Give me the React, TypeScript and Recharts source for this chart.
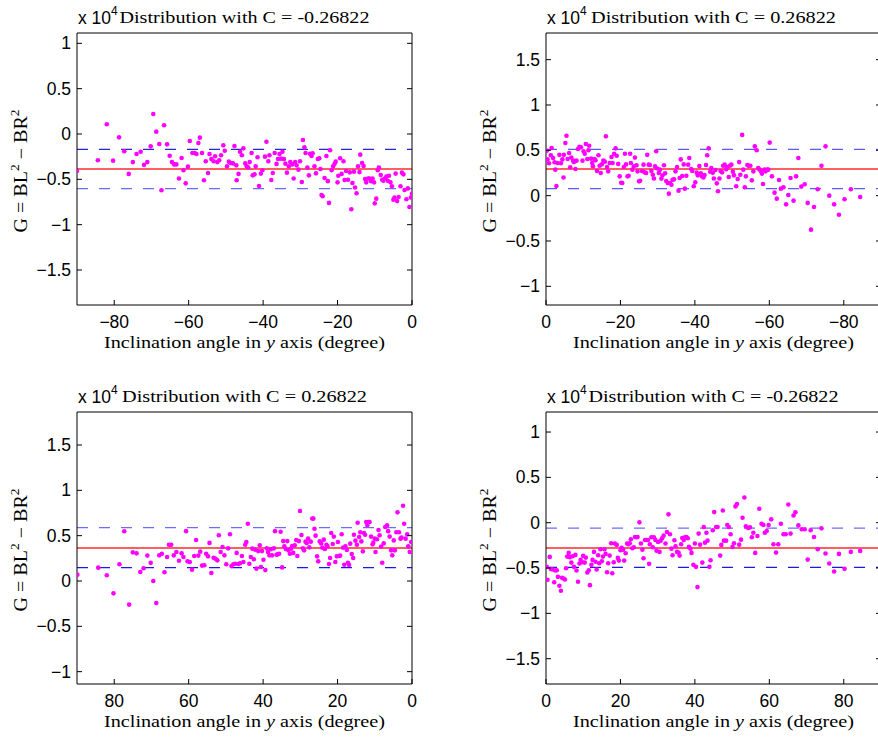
import React from 'react';
import { ScatterChart, Scatter, XAxis, YAxis, ReferenceLine } from 'recharts';

// panel 1 (top left): C = -0.26822, angle -90..0
const p1Angle = [
  -90, -84.4, -82.0, -80.3, -78.7, -77.3, -76.1, -75.0, -74.0, -72.9,
  -72.0, -71.1, -70.2, -69.5, -68.7, -67.9, -67.3, -66.6, -65.8, -65.1,
  -64.5, -63.9, -63.3, -62.6, -61.9, -61.4, -60.8, -60.2, -59.7, -59.0,
  -58.4, -57.9, -57.4, -57.0, -56.4, -55.9, -55.4, -54.8, -54.4, -53.9,
  -53.3, -52.9, -52.3, -51.8, -51.3, -50.7, -50.3, -49.7, -49.2, -48.7,
  -48.1, -47.7, -47.2, -47.1, -46.6, -46.2, -45.7, -45.3, -44.8, -44.4,
  -44.0, -43.6, -43.1, -42.8, -42.3, -42.0, -41.5, -41.1, -40.6, -40.2,
  -39.5, -39.1, -38.6, -38.3, -37.8, -37.4, -36.9, -36.4, -36.0, -35.6,
  -35.2, -34.8, -34.4, -34.0, -33.6, -33.1, -32.7, -32.2, -31.8, -31.4,
  -31.0, -30.5, -30.1, -29.6, -29.3, -28.9, -28.6, -28.1, -27.7, -27.4,
  -27.0, -26.7, -26.2, -25.8, -25.3, -24.9, -24.6, -24.3, -24.0, -23.5,
  -23.0, -22.6, -22.3, -22.0, -21.6, -21.2, -20.8, -20.5, -20.0, -19.8,
  -19.3, -18.9, -18.4, -18.1, -17.7, -17.2, -16.7, -16.3, -16.0, -15.6,
  -15.3, -14.9, -14.5, -14.1, -13.9, -13.4, -13.0, -12.6, -12.3, -11.8,
  -11.4, -11.0, -10.6, -10.2, -10.0, -9.6, -9.2, -8.9, -8.4, -8.0,
  -7.7, -7.3, -6.9, -6.5, -6.2, -5.8, -5.4, -5.0, -4.7, -4.4,
  -4.0, -3.6, -3.1, -2.7, -2.3, -2.0, -1.5, -1.1, -0.7, -0.3,
  0,
];
const p1G = [
  -0.408, -0.29, 0.107, -0.294, -0.037, -0.19, -0.44, -0.31, -0.22, -0.195,
  -0.34, -0.31, -0.136, 0.22, 0.026, -0.11, -0.62, 0.096, -0.114, -0.24,
  -0.31, -0.335, -0.335, -0.49, -0.265, -0.40, -0.544, -0.36, -0.077, -0.21,
  -0.21, -0.22, -0.10, -0.04, -0.21, -0.51, -0.30, -0.43, -0.22, -0.276,
  -0.30, -0.246, -0.31, -0.29, -0.235, -0.125, -0.184, -0.357, -0.305, -0.32,
  -0.324, -0.132, -0.346, -0.51, -0.44, -0.195, -0.235, -0.158, -0.324, -0.357,
  -0.37, -0.31, -0.21, -0.456, -0.445, -0.357, -0.257, -0.574, -0.437, -0.40,
  -0.25, -0.085, -0.30, -0.235, -0.507, -0.43, -0.21, -0.33, -0.276, -0.22,
  -0.272, -0.195, -0.276, -0.327, -0.426, -0.357, -0.31, -0.335, -0.49, -0.31,
  -0.346, -0.393, -0.30, -0.53, -0.066, -0.147, -0.21, -0.37, -0.456, -0.217,
  -0.243, -0.213, -0.357, -0.434, -0.276, -0.268, -0.386, -0.673, -0.687, -0.485,
  -0.243, -0.52, -0.76, -0.18, -0.40, -0.357, -0.33, -0.305, -0.533, -0.46,
  -0.268, -0.44, -0.30, -0.507, -0.408, -0.504, -0.423, -0.83, -0.54, -0.415,
  -0.59, -0.654, -0.357, -0.42, -0.228, -0.32, -0.353, -0.496, -0.533, -0.49,
  -0.49, -0.52, -0.49, -0.533, -0.765, -0.713, -0.40, -0.37, -0.452, -0.504,
  -0.515, -0.49, -0.47, -0.515, -0.46, -0.533, -0.577, -0.724, -0.70, -0.437,
  -0.74, -0.695, -0.577, -0.426, -0.445, -0.618, -0.72, -0.60, -0.805, -0.70,
  -0.658,
];

// panel 2 (top right): C = 0.26822, angle 0..-90 (reversed)
const p2Angle = [
  -0.2, -0.4, -0.8, -1.3, -1.5, -1.9, -2.3, -2.5, -2.8, -3.1,
  -3.6, -4.0, -4.4, -4.7, -4.8, -5.2, -5.5, -5.8, -6.2, -6.5,
  -6.8, -7.3, -7.5, -7.9, -8.2, -8.6, -9.0, -9.4, -9.8, -10.1,
  -10.4, -10.7, -11.1, -11.4, -11.6, -12.1, -12.4, -12.6, -13.0, -13.3,
  -13.7, -14.1, -14.4, -14.7, -15.0, -15.4, -15.8, -16.1, -16.4, -16.7,
  -17.1, -17.6, -17.9, -18.3, -18.7, -19.0, -19.4, -19.8, -20.2, -20.5,
  -20.9, -21.2, -21.5, -21.9, -22.2, -22.6, -22.8, -23.2, -23.6, -23.9,
  -24.3, -24.6, -25.0, -25.3, -25.8, -26.2, -26.5, -26.9, -27.2, -27.6,
  -27.9, -28.3, -28.7, -29.0, -29.3, -29.6, -29.9, -30.3, -30.6, -31.0,
  -31.3, -31.7, -32.0, -32.3, -32.7, -33.0, -33.3, -33.7, -34.0, -34.4,
  -34.8, -35.2, -35.6, -35.9, -36.2, -36.6, -37.0, -37.3, -37.7, -38.2,
  -38.5, -39.0, -39.3, -39.7, -40.1, -40.5, -40.8, -41.2, -41.6, -41.9,
  -42.3, -42.6, -43.0, -43.3, -43.7, -44.1, -44.4, -44.8, -45.1, -45.5,
  -45.9, -46.2, -46.6, -46.9, -47.3, -47.6, -48.0, -48.4, -48.7, -49.1,
  -49.4, -49.8, -50.2, -50.5, -51.1, -51.5, -51.9, -52.2, -52.7, -53.0,
  -53.4, -53.7, -54.1, -54.4, -54.9, -55.3, -55.7, -56.1, -56.6, -57.0,
  -57.3, -57.7, -58.0, -58.3, -58.7, -59.0, -59.4, -59.7, -60.1, -60.7,
  -61.4, -62.0, -62.6, -63.1, -63.8, -64.5, -65.1, -65.7, -66.5, -67.2,
  -67.8, -68.6, -69.5, -70.3, -71.2, -72.0, -73.0, -74.0, -75.1, -76.1,
  -77.4, -78.7, -80.2, -81.9, -84.4,
];
const p2G = [
  0.496, 0.40, 0.357, 0.445, 0.526, 0.415, 0.368, 0.287, 0.107, 0.36,
  0.45, 0.357, 0.40, 0.20, 0.45, 0.58, 0.66, 0.404, 0.47, 0.313,
  0.42, 0.386, 0.37, 0.294, 0.386, 0.515, 0.54, 0.533, 0.386, 0.49,
  0.463, 0.57, 0.404, 0.50, 0.55, 0.408, 0.36, 0.324, 0.404, 0.39,
  0.272, 0.445, 0.33, 0.25, 0.345, 0.386, 0.375, 0.654, 0.316, 0.268,
  0.36, 0.426, 0.36, 0.463, 0.522, 0.44, 0.35, 0.213, 0.143, 0.14,
  0.316, 0.463, 0.345, 0.213, 0.22, 0.463, 0.36, 0.287, 0.324, 0.42,
  0.335, 0.268, 0.158, 0.165, 0.272, 0.342, 0.257, 0.25, 0.45, 0.342,
  0.338, 0.272, 0.23, 0.19, 0.324, 0.49, 0.30, 0.25, 0.287, 0.188,
  0.224, 0.335, 0.246, 0.162, 0.14, 0.022, 0.14, 0.121, 0.176, 0.18,
  0.268, 0.316, 0.055, 0.195, 0.40, 0.217, 0.345, 0.077, 0.22, 0.342,
  0.415, 0.294, 0.272, 0.103, 0.147, 0.254, 0.224, 0.327, 0.246, 0.213,
  0.20, 0.228, 0.338, 0.445, 0.522, 0.265, 0.305, 0.254, 0.19, 0.283,
  0.136, 0.048, 0.19, 0.272, 0.257, 0.33, 0.342, 0.29, 0.316, 0.206,
  0.33, 0.342, 0.265, 0.224, 0.103, 0.184, 0.37, 0.23, 0.67, 0.287,
  0.092, 0.213, 0.338, 0.33, 0.33, 0.169, 0.268, 0.544, 0.50, 0.305,
  0.29, 0.272, 0.243, 0.128, 0.287, 0.268, 0.287, 0.287, 0.585, 0.213,
  0.033, -0.033, 0.173, 0.077, 0.092, -0.096, 0.007, 0.195, -0.055, 0.213,
  0.415, 0.10, 0.125, -0.08, -0.375, -0.125, 0.07, 0.33, 0.544, 0.0,
  -0.096, -0.21, -0.04, 0.07, -0.015,
];

// panel 3 (bottom left): C = 0.26822, angle 90..0 (reversed)
const p3Angle = [
  89.9, 84.3, 82.0, 80.2, 78.6, 77.3, 76.0, 75.0, 74.0, 73.0,
  72.1, 71.1, 70.2, 69.5, 68.7, 67.9, 67.2, 66.5, 65.8, 65.3,
  64.7, 64.0, 63.3, 62.6, 61.9, 61.4, 60.7, 60.3, 59.7, 59.1,
  58.5, 58.0, 57.4, 56.9, 56.4, 55.8, 55.3, 54.8, 54.4, 53.9,
  53.3, 52.8, 52.3, 51.9, 51.4, 50.9, 50.4, 49.9, 49.4, 48.9,
  48.5, 48.0, 47.5, 47.1, 46.6, 46.2, 45.7, 45.3, 44.8, 44.5,
  44.1, 43.7, 43.3, 42.9, 42.5, 42.1, 41.8, 41.3, 40.9, 40.6,
  40.3, 39.9, 39.4, 39.0, 38.7, 38.3, 37.9, 37.6, 37.1, 36.8,
  36.4, 36.1, 35.7, 35.3, 34.9, 34.6, 34.3, 33.9, 33.5, 33.2,
  32.8, 32.5, 32.2, 31.9, 31.5, 31.1, 30.8, 30.4, 30.1, 29.7,
  29.3, 29.0, 28.6, 28.3, 27.9, 27.6, 27.2, 26.8, 26.5, 26.2,
  25.9, 25.5, 25.2, 24.8, 24.4, 24.1, 23.7, 23.4, 23.0, 22.7,
  22.3, 22.0, 21.7, 21.3, 21.0, 20.6, 20.2, 19.9, 19.5, 19.3,
  18.9, 18.5, 18.2, 17.9, 17.5, 17.2, 16.9, 16.6, 16.2, 15.8,
  15.6, 15.2, 14.8, 14.6, 14.2, 13.9, 13.6, 13.2, 12.9, 12.6,
  12.3, 12.0, 11.7, 11.4, 11.0, 10.6, 10.4, 10.0, 9.8, 9.4,
  9.0, 8.7, 8.3, 8.0, 7.6, 7.2, 6.7, 6.4, 6.0, 5.6,
  5.3, 4.9, 4.6, 4.2, 3.9, 3.5, 3.1, 2.8, 2.4, 2.1,
  1.7, 1.3, 1.0, 0.6, 0.2,
];
const p3G = [
  0.07, 0.147, 0.063, -0.136, 0.184, 0.548, -0.26, 0.316, 0.305, 0.10,
  0.14, 0.28, 0.20, 0.0, -0.243, 0.283, 0.30, 0.096, 0.265, 0.40,
  0.40, 0.283, 0.32, 0.224, 0.305, 0.265, 0.55, 0.217, 0.21, 0.125,
  0.276, 0.452, 0.28, 0.324, 0.17, 0.173, 0.30, 0.272, 0.42, 0.088,
  0.257, 0.246, 0.228, 0.504, 0.32, 0.375, 0.283, 0.184, 0.36, 0.515,
  0.165, 0.184, 0.19, 0.31, 0.188, 0.195, 0.276, 0.21, 0.40, 0.43,
  0.632, 0.19, 0.265, 0.357, 0.24, 0.345, 0.136, 0.33, 0.393, 0.154,
  0.33, 0.235, 0.12, 0.36, 0.32, 0.283, 0.35, 0.283, 0.36, 0.55,
  0.29, 0.294, 0.30, 0.544, 0.15, 0.44, 0.382, 0.353, 0.44, 0.338,
  0.30, 0.357, 0.386, 0.31, 0.393, 0.452, 0.276, 0.44, 0.772, 0.507,
  0.36, 0.338, 0.434, 0.42, 0.467, 0.371, 0.434, 0.69, 0.688, 0.577,
  0.50, 0.272, 0.217, 0.437, 0.415, 0.368, 0.456, 0.353, 0.40, 0.382,
  0.188, 0.254, 0.53, 0.408, 0.49, 0.21, 0.272, 0.43, 0.276, 0.28,
  0.515, 0.368, 0.18, 0.382, 0.342, 0.202, 0.176, 0.412, 0.298, 0.254,
  0.51, 0.445, 0.40, 0.643, 0.485, 0.537, 0.437, 0.327, 0.53, 0.51,
  0.65, 0.614, 0.65, 0.65, 0.49, 0.404, 0.423, 0.467, 0.32, 0.46,
  0.563, 0.504, 0.38, 0.202, 0.415, 0.595, 0.614, 0.55, 0.49, 0.338,
  0.283, 0.448, 0.338, 0.537, 0.757, 0.537, 0.467, 0.478, 0.83, 0.632,
  0.467, 0.515, 0.382, 0.32, 0.43,
];

// panel 4 (bottom right): C = -0.26822, angle 0..90
const p4Angle = [
  0.2, 0.4, 1.0, 1.3, 1.8, 2.2, 2.5, 2.9, 3.2, 3.6,
  4.0, 4.3, 4.7, 5.1, 5.4, 5.7, 6.1, 6.4, 6.8, 7.2,
  7.5, 7.9, 8.2, 8.6, 9.0, 9.3, 9.7, 10.0, 10.4, 10.7,
  11.1, 11.5, 11.8, 12.2, 12.5, 12.9, 13.3, 13.6, 14.0, 14.3,
  14.6, 15.0, 15.3, 15.7, 16.0, 16.4, 16.7, 17.1, 17.5, 17.8,
  18.2, 18.5, 19.0, 19.3, 19.6, 20.0, 20.3, 20.7, 21.0, 21.4,
  21.8, 22.1, 22.5, 22.8, 23.2, 23.6, 23.9, 24.3, 24.6, 25.1,
  25.5, 25.9, 26.2, 26.6, 27.0, 27.4, 27.7, 27.9, 28.3, 28.7,
  29.0, 29.4, 29.7, 30.1, 30.5, 30.8, 31.2, 31.6, 32.1, 32.5,
  32.9, 33.3, 33.7, 34.0, 34.5, 34.8, 35.2, 35.6, 35.9, 36.3,
  36.6, 37.0, 37.4, 37.7, 38.1, 38.4, 38.8, 39.1, 39.6, 40.0,
  40.3, 40.7, 41.0, 41.4, 42.0, 42.4, 42.7, 43.1, 43.4, 43.9,
  44.2, 44.8, 45.2, 45.7, 46.1, 46.8, 47.1, 47.5, 47.8, 48.4,
  48.7, 49.1, 49.6, 50.1, 50.5, 50.9, 51.3, 51.9, 52.4, 52.8,
  53.3, 53.7, 54.3, 54.8, 55.3, 55.7, 56.2, 56.8, 57.3, 57.9,
  58.4, 58.8, 59.3, 59.8, 60.5, 61.1, 61.8, 62.4, 63.1, 63.8,
  64.4, 65.1, 65.7, 66.5, 67.0, 67.8, 68.7, 69.5, 70.3, 71.1,
  72.0, 73.0, 74.0, 75.1, 76.1, 77.4, 78.7, 80.2, 81.9, 84.4,
];
const p4G = [
  -0.487, -0.63, -0.377, -0.51, -0.516, -0.656, -0.527, -0.524, -0.597, -0.696,
  -0.75, -0.608, -0.615, -0.626, -0.502, -0.374, -0.333, -0.38, -0.44, -0.37,
  -0.487, -0.355, -0.527, -0.652, -0.45, -0.41, -0.436, -0.366, -0.44, -0.385,
  -0.55, -0.524, -0.689, -0.465, -0.41, -0.322, -0.43, -0.516, -0.359, -0.447,
  -0.293, -0.425, -0.374, -0.293, -0.344, -0.546, -0.447, -0.363, -0.227, -0.557,
  -0.436, -0.23, -0.245, -0.388, -0.418, -0.304, -0.278, -0.297, -0.418, -0.337,
  -0.23, -0.238, -0.227, -0.183, -0.282, -0.27, -0.158, -0.161, -0.158, 0.004,
  -0.23, -0.297, -0.392, -0.19, -0.19, -0.19, -0.454, -0.238, -0.161, -0.27,
  -0.161, -0.19, -0.308, -0.212, -0.322, -0.2, -0.172, -0.143, -0.23, -0.103,
  0.092, -0.128, -0.286, -0.359, -0.194, -0.26, -0.322, -0.33, -0.363, -0.238,
  -0.168, -0.19, -0.158, -0.158, -0.172, -0.267, -0.286, -0.333, -0.465, -0.23,
  -0.487, -0.71, -0.12, -0.242, -0.44, -0.048, -0.22, -0.11, -0.198, -0.487,
  -0.414, -0.084, 0.117, -0.048, -0.048, -0.363, -0.245, 0.135, -0.198, -0.198,
  -0.026, -0.048, -0.128, -0.267, -0.227, 0.18, 0.205, -0.242, -0.187, 0.055,
  0.278, -0.04, -0.059, -0.051, -0.161, -0.11, -0.333, -0.147, 0.154, -0.011,
  -0.026, -0.11, -0.092, -0.026, 0.037, -0.238, -0.33, -0.238, -0.011, -0.128,
  -0.128, 0.201, -0.12, 0.08, 0.114, -0.03, -0.073, -0.073, -0.407, -0.084,
  -0.158, -0.293, -0.062, -0.34, -0.45, -0.538, -0.344, -0.509, -0.322, -0.311,
];

// mean (red) and mean +/- std (dashed), one entry per panel
const meanG = [-0.386, 0.294, 0.364, -0.279];
const upperG = [-0.17, 0.51, 0.589, -0.06];
const lowerG = [-0.603, 0.077, 0.148, -0.493];

const titles = [
  'Distribution with C = -0.26822',
  'Distribution with C = 0.26822',
  'Distribution with C = 0.26822',
  'Distribution with C = -0.26822',
];

const negAngleTicks = [-80, -60, -40, -20, 0];
const posAngleTicks = [0, 20, 40, 60, 80];
const gTicksLow = [-1.5, -1, -0.5, 0, 0.5, 1];
const gTicksHigh = [-1, -0.5, 0, 0.5, 1, 1.5];

const SANS = '"Liberation Sans", Arial, Helvetica, sans-serif';
const SERIF = '"Liberation Serif", "Times New Roman", serif';
const PLOT_W = 335;
const PLOT_H = 272;
const Y_AXIS_W = 60;
const X_AXIS_H = 30;
const EDGE = 10;
const TICK = 5;
const TICK_FONT = 17.5;

const fmt = (v: number) => (v < 0 ? '\u2212' + Math.abs(v) : String(v));

const BottomTick = ({ x, y, payload }: any) => (
  <g>
    <line x1={x} y1={y} x2={x} y2={y - TICK} stroke="#000" />
    <text x={x} y={y + 23} textAnchor="middle" fontFamily={SANS} fontSize={TICK_FONT} fill="#000">
      {fmt(payload.value)}
    </text>
  </g>
);

const TopTick = ({ x, y }: any) => <line x1={x} y1={y} x2={x} y2={y + TICK} stroke="#000" />;

const LeftTick = ({ x, y, payload }: any) => (
  <g>
    <line x1={x} y1={y} x2={x + TICK} y2={y} stroke="#000" />
    <text x={x - 6} y={y + 6} textAnchor="end" fontFamily={SANS} fontSize={TICK_FONT} fill="#000">
      {fmt(payload.value)}
    </text>
  </g>
);

const RightTick = ({ x, y }: any) => <line x1={x} y1={y} x2={x - TICK} y2={y} stroke="#000" />;

const Dot = (props: any) => <circle cx={props.cx} cy={props.cy} r={2.3} fill="#ff00ff" />;

interface PanelProps {
  left: number;
  top: number;
  width: number;
  height: number;
  plotLeft: number;
  plotTop: number;
  angle: number[];
  g: number[];
  idx: number;
  xDomain: [number, number];
  reversed: boolean;
  xTicks: number[];
  yTicks: number[];
  titleWidth: number;
  dashTop: string;
  dashBottom: string;
}

function Panel(p: PanelProps) {
  const data = p.angle.map((a, i) => ({ x: a, y: p.g[i] }));
  const mean = meanG[p.idx];
  const yDomain: [number, number] = [mean - 1.5, mean + 1.5];
  const margin = {
    left: p.plotLeft - Y_AXIS_W,
    top: p.plotTop - EDGE,
    right: p.width - p.plotLeft - PLOT_W - EDGE,
    bottom: p.height - p.plotTop - PLOT_H - X_AXIS_H,
  };

  const titleLabel = ({ viewBox }: any) => {
    const base = viewBox.y + viewBox.height - 10;
    return (
      <g>
        <text x={viewBox.x + 1} y={base + 1} fontFamily={SANS} fontSize={TICK_FONT} fill="#000">
          x 10<tspan dy={-9} fontSize={12}>4</tspan>
        </text>
        <text
          x={viewBox.x + viewBox.width / 2}
          y={base}
          textAnchor="middle"
          fontFamily={SERIF}
          fontSize={17}
          fill="#000"
          textLength={p.titleWidth}
          lengthAdjust="spacingAndGlyphs"
        >
          {titles[p.idx]}
        </text>
      </g>
    );
  };

  const xLabel = ({ viewBox }: any) => (
    <text
      x={viewBox.x + viewBox.width / 2}
      y={viewBox.y + 43}
      textAnchor="middle"
      fontFamily={SERIF}
      fontSize={17}
      fill="#000"
      textLength={281}
      lengthAdjust="spacingAndGlyphs"
    >
      Inclination angle in <tspan fontStyle="italic">y</tspan> axis (degree)
    </text>
  );

  const yLabel = ({ viewBox }: any) => {
    const cx = viewBox.x + 10;
    const cy = viewBox.y + viewBox.height / 2 + 2;
    return (
      <text
        x={cx}
        y={cy}
        transform={`rotate(-90 ${cx} ${cy})`}
        textAnchor="middle"
        fontFamily={SERIF}
        fontSize={18}
        fill="#000"
        textLength={123}
        lengthAdjust="spacingAndGlyphs"
      >
        G = BL<tspan dy={-8} fontSize={12}>2</tspan>
        <tspan dy={8}> {'\u2212'} BR</tspan>
        <tspan dy={-8} fontSize={12}>2</tspan>
      </text>
    );
  };

  return (
    <div style={{ position: 'absolute', left: p.left, top: p.top }}>
      <ScatterChart width={p.width} height={p.height} margin={margin}>
        <XAxis
          type="number"
          dataKey="x"
          domain={p.xDomain}
          reversed={p.reversed}
          ticks={p.xTicks}
          interval={0}
          allowDataOverflow
          height={X_AXIS_H}
          stroke="#000"
          tickLine={false}
          tickSize={0}
          tickMargin={0}
          tick={BottomTick}
          label={xLabel}
        />
        <XAxis
          xAxisId="top"
          orientation="top"
          type="number"
          domain={p.xDomain}
          reversed={p.reversed}
          ticks={p.xTicks}
          interval={0}
          allowDataOverflow
          height={EDGE}
          stroke="#000"
          tickLine={false}
          tickSize={0}
          tickMargin={0}
          tick={TopTick}
          label={titleLabel}
        />
        <YAxis
          type="number"
          dataKey="y"
          domain={yDomain}
          ticks={p.yTicks}
          interval={0}
          allowDataOverflow
          width={Y_AXIS_W}
          stroke="#000"
          tickLine={false}
          tickSize={0}
          tickMargin={0}
          tick={LeftTick}
          label={yLabel}
        />
        <YAxis
          yAxisId="right"
          orientation="right"
          type="number"
          domain={yDomain}
          ticks={p.yTicks}
          interval={0}
          allowDataOverflow
          width={EDGE}
          stroke="#000"
          tickLine={false}
          tickSize={0}
          tickMargin={0}
          tick={RightTick}
        />
        <ReferenceLine y={upperG[p.idx]} stroke={p.dashTop} strokeWidth={1.3} strokeDasharray="11 11" />
        <ReferenceLine y={lowerG[p.idx]} stroke={p.dashBottom} strokeWidth={1.3} strokeDasharray="11 11" />
        <ReferenceLine y={mean} stroke="#ff2a2a" strokeWidth={1.4} />
        <Scatter data={data} shape={Dot} isAnimationActive={false} />
      </ScatterChart>
    </div>
  );
}

export default function App() {
  return (
    <div
      style={{
        position: 'absolute',
        left: 0,
        top: 0,
        width: 878,
        height: 738,
        overflow: 'hidden',
        background: '#fff',
      }}
    >
      <Panel
        left={0} top={0} width={440} height={370} plotLeft={77} plotTop={33}
        angle={p1Angle} g={p1G} idx={0} xDomain={[-90, 0]} reversed={false}
        xTicks={negAngleTicks} yTicks={gTicksLow} titleWidth={250}
        dashTop="#2626e0" dashBottom="#6b6bff"
      />
      <Panel
        left={440} top={0} width={460} height={370} plotLeft={106} plotTop={33}
        angle={p2Angle} g={p2G} idx={1} xDomain={[-90, 0]} reversed={true}
        xTicks={negAngleTicks} yTicks={gTicksHigh} titleWidth={245}
        dashTop="#5a5aff" dashBottom="#5a5aff"
      />
      <Panel
        left={0} top={370} width={440} height={368} plotLeft={77} plotTop={42}
        angle={p3Angle} g={p3G} idx={2} xDomain={[0, 90]} reversed={true}
        xTicks={posAngleTicks} yTicks={gTicksHigh} titleWidth={245}
        dashTop="#6b6bff" dashBottom="#1a1ae6"
      />
      <Panel
        left={440} top={370} width={460} height={368} plotLeft={106} plotTop={42}
        angle={p4Angle} g={p4G} idx={3} xDomain={[0, 90]} reversed={false}
        xTicks={posAngleTicks} yTicks={gTicksLow} titleWidth={250}
        dashTop="#6b6bff" dashBottom="#1a1ae6"
      />
    </div>
  );
}
